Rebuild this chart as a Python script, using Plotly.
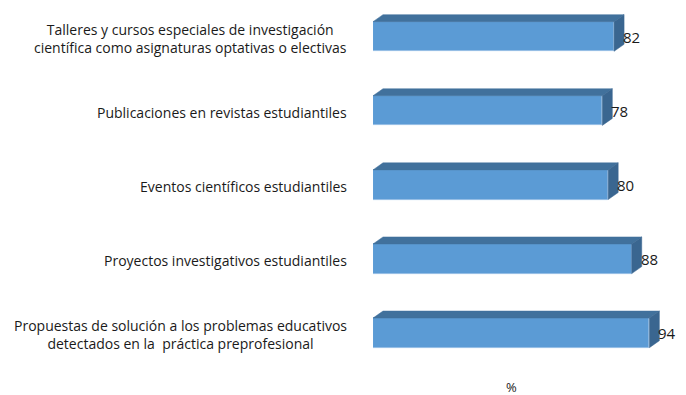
import plotly.graph_objects as go

# Actividades de investigación estudiantil (porcentaje)
categories = [
    "Talleres y cursos especiales de investigación<br>científica como asignaturas optativas o electivas",
    "Publicaciones en revistas estudiantiles",
    "Eventos científicos estudiantiles",
    "Proyectos investigativos estudiantiles",
    "Propuestas de solución a los problemas educativos<br>detectados en la  práctica preprofesional",
]
values = [82, 78, 80, 88, 94]
axis_title = "%"

FRONT = "#5B9BD5"
TOP = "#41719C"
SIDE = "#3A6690"
FONT = "Open Sans"

BAR_H = 0.40      # thickness of the front face (category units)
DEPTH_X = 3.4     # 3-D depth offset along the value axis
DEPTH_Y = 0.095   # 3-D depth offset along the category axis

fig = go.Figure()

ypos = list(range(len(categories)))

# top and side faces give the bars their extruded look
for y, v in zip(ypos, values):
    top = y - BAR_H / 2
    bot = y + BAR_H / 2
    fig.add_trace(go.Scatter(
        x=[0, v, v + DEPTH_X, DEPTH_X, 0],
        y=[top, top, top - DEPTH_Y, top - DEPTH_Y, top],
        fill="toself", fillcolor=TOP, mode="lines",
        line=dict(color=TOP, width=0.5), hoverinfo="skip", showlegend=False,
    ))
    fig.add_trace(go.Scatter(
        x=[v, v + DEPTH_X, v + DEPTH_X, v, v],
        y=[top, top - DEPTH_Y, bot - DEPTH_Y, bot, top],
        fill="toself", fillcolor=SIDE, mode="lines",
        line=dict(color=SIDE, width=0.5), hoverinfo="skip", showlegend=False,
    ))

# front faces
fig.add_trace(go.Bar(
    x=values, y=ypos, orientation="h", width=BAR_H,
    marker=dict(color=FRONT, line=dict(color="#8DB8E2", width=0.8)),
    showlegend=False,
))

annotations = []
for y, v, c in zip(ypos, values, categories):
    annotations.append(dict(
        x=v, y=y, xref="x", yref="y", text=str(v), showarrow=False,
        xanchor="left", xshift=7, font=dict(family=FONT, size=15, color="#1a1a1a"),
    ))
    annotations.append(dict(
        x=-0.076, y=y, xref="paper", yref="y", text=c, showarrow=False,
        xanchor="right", align="center", yshift=-2,
        font=dict(family=FONT, size=14, color="#1a1a1a"),
    ))
annotations.append(dict(
    x=0.441, y=-25 / 370, xref="paper", yref="paper", text=axis_title,
    showarrow=False, xanchor="center", yanchor="bottom", yshift=-3,
    font=dict(family=FONT, size=13, color="#1a1a1a"),
))

fig.update_layout(
    width=686, height=395,
    margin=dict(l=373, r=0, t=0, b=25),
    paper_bgcolor="white", plot_bgcolor="white",
    bargap=0,
    xaxis=dict(range=[0, 313 / 2.94], visible=False, fixedrange=True),
    yaxis=dict(range=[(370 - 36.5) / 74.1, -36.5 / 74.1], visible=False),
    annotations=annotations,
)

fig.write_html("out.html")
